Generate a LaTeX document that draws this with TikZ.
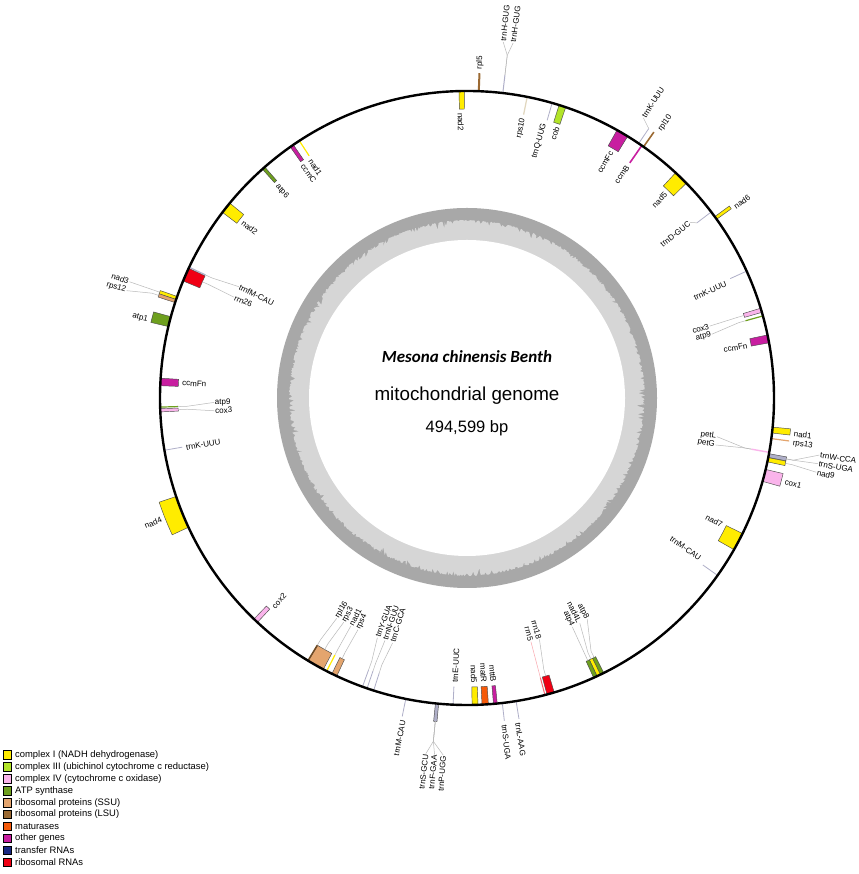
\documentclass[tikz,border=0pt]{standalone}
\usepackage{fontspec}
\setmainfont{Liberation Sans}
\newfontfamily\carl{Carlito}
\definecolor{cI}{RGB}{255,236,0}
\definecolor{cIII}{RGB}{178,228,40}
\definecolor{cIV}{RGB}{250,180,235}
\definecolor{catp}{RGB}{110,160,30}
\definecolor{cssu}{RGB}{228,165,110}
\definecolor{clsu}{RGB}{155,105,50}
\definecolor{cmat}{RGB}{245,90,10}
\definecolor{coth}{RGB}{200,30,160}
\definecolor{ctrna}{RGB}{25,40,130}
\definecolor{crrna}{RGB}{240,0,20}
\definecolor{ctl}{RGB}{175,175,200}
\definecolor{cpale}{RGB}{225,215,190}
\definecolor{ringA}{RGB}{168,168,168}
\definecolor{ringB}{RGB}{214,214,214}
\newcommand{\glab}[5]{%
  \pgfmathsetmacro{\gcos}{cos(#2)}%
  \pgfmathsetmacro{\grot}{(\gcos>0) ? (#2) : (#2+180)}%
  \pgfmathsetmacro{\gsg}{((\gcos>0) ? 1 : -1)*(#4)}%
  \ifdim\gsg pt>0pt\def\ganc{west}\else\def\ganc{east}\fi
  \node[lbl,rotate=\grot,anchor=\ganc] (#1) at (#2:#3) {#5};%
}
\newcommand{\gbx}[4]{%
  \pgfmathsetmacro{\ga}{#1-#2/2}\pgfmathsetmacro{\gb}{#1+#2/2}%
  \filldraw[fill=#4, draw=black!70, line width=0.45] (\ga:307) arc[start angle=\ga, end angle=\gb, radius=307] -- (\gb:#3) arc[start angle=\gb, end angle=\ga, radius=#3] -- cycle;%
}
\newcommand{\gln}[4]{\draw[#3, line width=#4] (#1:307) -- (#1:#2);}
\begin{document}
\begin{tikzpicture}[x=1pt,y=1pt,
  lbl/.style={font=\fontsize{8}{9}\selectfont, inner sep=0.7pt},
  lead/.style={draw=gray!55, line width=0.5},
  legbox/.style={draw=black, line width=0.6, minimum width=8.5pt, minimum height=8.5pt, inner sep=0pt},
  legtxt/.style={anchor=west, font=\fontsize{9.4}{10}\selectfont, inner sep=0pt}]
\useasboundingbox (0,0) rectangle (858,874);
\fill[white] (0,0) rectangle (858,874);
\begin{scope}[shift={(467,476)}]
% GC content ring
\fill[ringA] (0,0) circle[radius=190];
\pgfmathsetseed{7}
\fill[ringB] (0:176) \foreach \a in {1,...,899}{ -- ({\a*0.4}:{178-11*rnd*rnd*rnd}) } -- cycle;
\fill[white] (0,0) circle[radius=158];
% ---- genes outside
\gln{87.8}{325}{clsu}{2}
\gln{83.3}{325}{ctl}{1}
\gln{54.9}{325}{clsu}{1.6}
\gln{56.0}{325}{ctl}{0.8}
\gbx{35.9}{0.6}{325}{cI}
\gbx{-6.0}{1.1}{325}{cI}
\gln{-7.6}{325}{cssu}{1.2}
\gbx{-10.8}{0.7}{325}{ctl}
\gbx{-11.6}{0.8}{325}{cI}
\gbx{-14.6}{2.3}{325}{cIV}
\gln{-80.8}{325}{ctl}{0.8}
\gln{-83.4}{325}{ctl}{0.8}
\gbx{-95.6}{0.6}{325}{ctl}
\gln{-101.5}{325}{ctl}{0.8}
\gbx{-158.2}{6.2}{325}{cI}
\gbx{165.6}{1.9}{325}{catp}
\gbx{161.0}{0.6}{325}{cI}
\gbx{161.6}{0.6}{325}{cssu}
% ---- genes inside
\gbx{91.0}{1.0}{289}{cI}
\gln{78.7}{289}{cpale}{1.2}
\gln{73.9}{289}{ctl}{0.8}
\gbx{71.9}{1.3}{289}{cIII}
\gbx{59.6}{2.3}{289}{coth}
\gln{55.3}{286}{coth}{1.6}
\gbx{45.8}{2.8}{289}{cI}
\gln{37.3}{289}{ctl}{0.8}
\gln{24.4}{289}{ctl}{0.8}
\gbx{16.6}{0.8}{289}{cIV}
\gln{15.5}{289}{catp}{1.2}
\gbx{11.1}{1.5}{289}{coth}
\gln{-10.2}{289}{cIV}{1.4}
\gbx{-27.9}{3.4}{289}{cI}
\gln{-35.3}{289}{ctl}{0.8}
\gbx{-63.9}{0.7}{289}{catp}
\gbx{-64.6}{0.7}{289}{cI}
\gbx{-65.3}{0.7}{289}{catp}
\gbx{-74.2}{1.4}{289}{crrna}
\gln{-75.3}{289}{crrna!60}{1}
\gbx{-84.7}{0.7}{289}{coth}
\gbx{-86.6}{1.2}{289}{cmat}
\gbx{-88.5}{1.1}{289}{cI}
\gln{-92.6}{289}{ctl}{0.8}
\gln{-109.9}{289}{ctl}{0.8}
\gln{-109.0}{289}{ctl}{0.8}
\gln{-107.7}{289}{ctl}{0.8}
\gbx{-119.5}{3.2}{289}{cssu}
\gln{-121.2}{289}{clsu!70!black}{1.4}
\gln{-117.2}{289}{cI}{1.2}
\gbx{-115.6}{1.0}{289}{cssu}
\gbx{-133.5}{0.9}{289}{cIV}
\gln{-170.2}{289}{ctl}{0.8}
\gln{-178.3}{289}{catp}{1.2}
\gbx{-177.7}{0.6}{289}{cIV}
\gbx{177.0}{1.4}{289}{coth}
\gbx{156.3}{2.6}{289}{crrna}
\gln{154.8}{289}{ctl}{1.2}
\gbx{141.7}{2.2}{289}{cI}
\gbx{131.5}{0.6}{289}{catp}
\gbx{124.8}{0.7}{289}{coth}
\gln{123.1}{289}{cI}{1.2}
% main circle
\draw[line width=2.4] (0,0) circle[radius=307];
% ---- labels outside
\glab{Lrpl5}{87.8}{328}{1}{rpl5}
\glab{LtrnHa}{84.2}{358}{1}{trnH-GUG}
\glab{LtrnHb}{82.6}{358}{1}{trnH-GUG}
\glab{Lrpl10}{54.2}{329}{1}{rpl10}
\glab{LtrnKa}{57.8}{331}{1}{trnK-UUU}
\glab{Lnad6}{35.5}{328}{1}{nad6}
\glab{Lnad1b}{-6.3}{328}{1}{nad1}
\glab{Lrps13}{-7.9}{328}{1}{rps13}
\glab{LtrnW}{-9.2}{357}{1}{trnW-CCA}
\glab{LtrnSa}{-10.6}{357}{1}{trnS-UGA}
\glab{Lnad9}{-12.0}{357}{1}{nad9}
\glab{Lcox1}{-14.8}{328}{1}{cox1}
\glab{LtrnL}{-81.1}{328}{1}{trnL-AAG}
\glab{LtrnSb}{-83.5}{328}{1}{trnS-UGA}
\glab{LtrnSc}{-96.6}{358}{1}{trnS-GCU}
\glab{LtrnF}{-95.2}{358}{1}{trnF-GAA}
\glab{LtrnP}{-93.8}{358}{1}{trnP-UGG}
\glab{LtrnMc}{-101.2}{328}{1}{trnM-CAU}
\glab{Lnad4}{-158.3}{328}{1}{nad4}
\glab{Latp1}{166.2}{328}{1}{atp1}
\glab{Lnad3}{161.0}{357}{1}{nad3}
\glab{Lrps12}{162.5}{357}{1}{rps12}
% ---- labels inside
\glab{Lnad2a}{91.3}{286}{-1}{nad2}
\glab{Lrps10}{78.7}{286}{-1}{rps10}
\glab{LtrnQ}{74.3}{286}{-1}{trnQ-UUG}
\glab{Lcob}{71.6}{286}{-1}{cob}
\glab{LccmFc}{59.6}{286}{-1}{ccmFc}
\glab{LccmB}{55.3}{283}{-1}{ccmB}
\glab{Lnad5a}{45.8}{286}{-1}{nad5}
\glab{LtrnD}{38.2}{284}{-1}{trnD-GUC}
\glab{LtrnKb}{23.8}{284}{-1}{trnK-UUU}
\glab{Lcox3a}{16.5}{253}{-1}{cox3}
\glab{Latp9a}{14.6}{253}{-1}{atp9}
\glab{LccmFna}{10.6}{286}{-1}{ccmFn}
\glab{LpetL}{-8.8}{253}{-1}{petL}
\glab{LpetG}{-10.7}{253}{-1}{petG}
\glab{Lnad7}{-26.5}{286}{-1}{nad7}
\glab{LtrnMb}{-34.5}{284}{-1}{trnM-CAU}
\glab{Latp8}{-61.5}{252}{-1}{atp8}
\glab{Lnad4L}{-63.4}{252}{-1}{nad4L}
\glab{Latp4}{-65.3}{252}{-1}{atp4}
\glab{Lrrn18}{-73.3}{252}{-1}{rrn18}
\glab{Lrrn5}{-75.3}{252}{-1}{rrn5}
\glab{LmttB}{-84.7}{286}{-1}{mttB}
\glab{LmatR}{-86.6}{286}{-1}{matR}
\glab{Lnad5b}{-88.6}{286}{-1}{nad5}
\glab{LtrnE}{-92.4}{286}{-1}{trnE-UUC}
\glab{LtrnY}{-110.5}{256}{-1}{trnY-GUA}
\glab{LtrnN}{-108.7}{256}{-1}{trnN-GUU}
\glab{LtrnC}{-106.9}{256}{-1}{trnC-GCA}
\glab{Lrpl16}{-120.6}{256}{-1}{rpl16}
\glab{Lrps3}{-118.8}{256}{-1}{rps3}
\glab{Lnad1c}{-117.0}{256}{-1}{nad1}
\glab{Lrps4}{-115.2}{256}{-1}{rps4}
\glab{Lcox2}{-132.8}{286}{-1}{cox2}
\glab{LtrnKc}{-170.0}{286}{-1}{trnK-UUU}
\glab{Latp9b}{-179.0}{253}{-1}{atp9}
\glab{Lcox3b}{-177.1}{253}{-1}{cox3}
\glab{LccmFnb}{177.0}{286}{-1}{ccmFn}
\glab{LtrnfM}{154.0}{254}{-1}{trnfM-CAU}
\glab{Lrrn26}{156.6}{254}{-1}{rrn26}
\glab{Lnad2b}{141.9}{286}{-1}{nad2}
\glab{Latp6}{131.8}{286}{-1}{atp6}
\glab{LccmC}{125.2}{286}{-1}{ccmC}
\glab{Lnad1a}{123.3}{286}{-1}{nad1}
% ---- leader lines
\draw[lead] (83.3:325) -- (83.3:345) -- (LtrnHa.west);
\draw[lead] (83.3:325) -- (83.3:345) -- (LtrnHb.west);
\draw[lead] (56.0:325) -- (LtrnKa.west);
\draw[lead] (37.3:289) -- (LtrnD.east);
\draw[lead] (16.6:289) -- (16.6:282) -- (Lcox3a.east);
\draw[lead] (15.5:289) -- (15.5:282) -- (Latp9a.east);
\draw[lead] (-10.2:289) -- (-10.2:282) -- (LpetL.east);
\draw[lead] (-10.2:289) -- (-10.2:282) -- (LpetG.east);
\draw[lead] (-10.8:325) -- (-10.8:332) -- (LtrnW.west);
\draw[lead] (-10.8:325) -- (-10.8:332) -- (LtrnSa.west);
\draw[lead] (-11.6:325) -- (-11.6:332) -- (Lnad9.west);
\draw[lead] (-95.6:325) -- (-95.6:345) -- (LtrnSc.east);
\draw[lead] (-95.6:325) -- (-95.6:345) -- (LtrnF.east);
\draw[lead] (-95.6:325) -- (-95.6:345) -- (LtrnP.east);
\draw[lead] (-63.9:289) -- (-63.9:282) -- (Latp8.east);
\draw[lead] (-64.6:289) -- (-64.6:282) -- (Lnad4L.east);
\draw[lead] (-65.3:289) -- (-65.3:282) -- (Latp4.east);
\draw[lead] (-74.2:289) -- (-74.2:282) -- (Lrrn18.east);
\draw[lead, draw=crrna!35] (-75.3:289) -- (-75.3:282) -- (Lrrn5.east);
\draw[lead] (-109.9:289) -- (-109.9:280) -- (LtrnY.west);
\draw[lead] (-109.0:289) -- (-109.0:280) -- (LtrnN.west);
\draw[lead] (-107.7:289) -- (-107.7:280) -- (LtrnC.west);
\draw[lead] (-121.2:289) -- (-121.2:282) -- (Lrpl16.west);
\draw[lead] (-119.5:289) -- (-119.5:282) -- (Lrps3.west);
\draw[lead] (-117.2:289) -- (-117.2:282) -- (Lnad1c.west);
\draw[lead] (-115.6:289) -- (-115.6:282) -- (Lrps4.west);
\draw[lead] (-178.3:289) -- (-178.3:280) -- (Latp9b.west);
\draw[lead] (-177.7:289) -- (-177.7:280) -- (Lcox3b.west);
\draw[lead] (154.8:289) -- (154.8:282) -- (LtrnfM.west);
\draw[lead] (156.3:289) -- (156.3:282) -- (Lrrn26.west);
\draw[lead] (161.0:325) -- (161.0:332) -- (Lnad3.east);
\draw[lead] (161.6:325) -- (161.6:332) -- (Lrps12.east);
% ---- centre text
\node (title) at (0,41) {\carl\bfseries\itshape\fontsize{17}{20}\selectfont Mesona chinensis Benth};
\node (sub) at (0,2) {\fontsize{18.8}{22}\selectfont mitochondrial genome};
\node (size) at (0,-30) {\fontsize{16.5}{20}\selectfont 494,599 bp};
\end{scope}
% ---- legend
\foreach \i/\c/\t in {0/cI/complex I (NADH dehydrogenase),
  1/cIII/complex III (ubichinol cytochrome c reductase),
  2/cIV/complex IV (cytochrome c oxidase),
  3/catp/ATP synthase,
  4/cssu/ribosomal proteins (SSU),
  5/clsu/ribosomal proteins (LSU),
  6/cmat/maturases,
  7/coth/other genes,
  8/ctrna/transfer RNAs,
  9/crrna/ribosomal RNAs}{
  \node[legbox, fill=\c] (k\i) at (7.5, {874-755-11.9*\i}) {};
  \node[legtxt] (t\i) at (15, {874-755-11.9*\i}) {\t};
}
\end{tikzpicture}
\end{document}
